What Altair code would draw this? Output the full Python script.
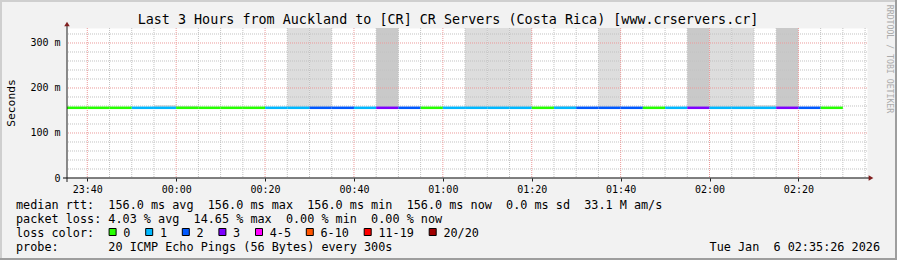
import altair as alt
import pandas as pd

# ---------------- data ----------------
TITLE = "Last 3 Hours from Auckland to [CR] CR Servers (Costa Rica) [www.crservers.cr]"

# 5-minute steps: start time of each step, loss (of 20 pings) and median rtt (ms)
seg_start = ["23:35", "23:40", "23:45", "23:50", "23:55", "00:00", "00:05", "00:10",
             "00:15", "00:20", "00:25", "00:30", "00:35", "00:40", "00:45", "00:50",
             "00:55", "01:00", "01:05", "01:10", "01:15", "01:20", "01:25", "01:30",
             "01:35", "01:40", "01:45", "01:50", "01:55", "02:00", "02:05", "02:10",
             "02:15", "02:20", "02:25"]
seg_loss = [0, 0, 0, 1, 1, 0, 0, 0, 0, 1, 1, 2, 2, 1, 3, 2, 0, 1, 1, 1, 1, 0, 1, 2,
            2, 2, 0, 1, 3, 1, 1, 1, 3, 2, 0]
seg_median = [156.0, 156.0, 156.0, 156.0, 156.0, 156.0, 156.0, 156.0, 156.0, 156.0,
              156.0, 156.0, 156.0, 156.0, 156.0, 156.0, 156.0, 156.0, 156.0, 156.0,
              156.0, 156.0, 156.0, 156.0, 156.0, 156.0, 156.0, 156.0, 156.0, 156.0,
              156.0, 156.0, 156.0, 156.0, 156.0]

# smoke (spread of pings) per step: top of the smoke in ms, and its shade
smoke_start = ["23:50", "23:55", "00:00", "00:25", "00:30", "00:45", "01:05", "01:10",
               "01:15", "01:25", "01:30", "01:35", "01:55", "02:00", "02:05", "02:10",
               "02:15"]
smoke_top = [157.5, 162.0, 160.0, 340.0, 340.0, 340.0, 340.0, 340.0, 340.0, 160.0,
             157.5, 340.0, 340.0, 340.0, 340.0, 162.0, 340.0]
smoke_shade = ["light", "light", "light", "light", "light", "dark", "light", "light",
               "light", "light", "light", "light", "dark", "light", "light", "light",
               "dark"]

loss_labels = ["0", "1", "2", "3", "4-5", "6-10", "11-19", "20/20"]
loss_colors = ["#26ff00", "#00b8ff", "#0059ff", "#7e00ff", "#ff00ff", "#ff5500",
               "#ff0000", "#a10000"]

y_ticks = [0, 100, 200, 300]
y_minor = [20, 40, 60, 80, 120, 140, 160, 180, 220, 240, 260, 280, 320]
x_major = ["23:40", "00:00", "00:20", "00:40", "01:00", "01:20", "01:40", "02:00", "02:20"]

legend_lines = [
    "median rtt:  156.0 ms avg  156.0 ms max  156.0 ms min  156.0 ms now  0.0 ms sd  33.1 M am/s",
    "packet loss: 4.03 % avg  14.65 % max  0.00 % min  0.00 % now",
    "loss color:",
    "probe:       20 ICMP Echo Pings (56 Bytes) every 300s",
]
date_text = "Tue Jan  6 02:35:26 2026"
y_title = "Seconds"
watermark = "RRDTOOL / TOBI OETIKER"

# ---------------- helpers ----------------
L, T = 67, 28          # plot origin in page pixels
W, H = 800, 150        # plot size
MONO = "DejaVu Sans Mono"


def ts(hhmm):
    day = "2026-01-05" if int(hhmm[:2]) >= 12 else "2026-01-06"
    return pd.Timestamp(f"{day}T{hhmm}:00")


def iso(t):
    return t.strftime("%Y-%m-%dT%H:%M:%S")


def dt(t):
    return alt.DateTime(year=t.year, month=t.month, date=t.day,
                        hours=t.hour, minutes=t.minute, seconds=t.second)


step = pd.Timedelta(minutes=5)
t0 = pd.Timestamp("2026-01-05T23:35:26")
t1 = pd.Timestamp("2026-01-06T02:35:26")

major_times = [ts(s) for s in x_major]
minor_times = []
t = ts("23:40")
while t <= t1:
    if t not in major_times:
        minor_times.append(t)
    t = t + step

xscale = alt.Scale(domain=[dt(t0), dt(t1)])
yscale = alt.Scale(domain=[0, 333.333], nice=False, zero=False)
cscale = alt.Scale(domain=loss_labels, range=loss_colors)

XAXIS = alt.Axis(values=[dt(v) for v in major_times], format="%H:%M",
                 labelFont=MONO, labelFontSize=10, labelColor="black",
                 tickSize=3, tickColor="#1f1f1f", labelPadding=3,
                 domain=False, grid=False, title=None)
YAXIS = alt.Axis(values=y_ticks, labelFont=MONO, labelFontSize=10,
                 labelColor="black", tickSize=0, labelPadding=7,
                 labelExpr="datum.value == 0 ? '0\u00a0\u00a0' : datum.value + ' m'",
                 domain=False, grid=False, title=None)


def X(field):
    return alt.X(field, scale=xscale, axis=XAXIS, title=None)


def Y(field):
    return alt.Y(field, scale=yscale, axis=YAXIS, title=None)


seg_df = pd.DataFrame({
    "start": [iso(ts(s)) for s in seg_start],
    "end": [iso(ts(s) + step) for s in seg_start],
    "loss": [loss_labels[v] for v in seg_loss],
    "rtt": seg_median,
})
smoke_df = pd.DataFrame({
    "start": [iso(ts(s)) for s in smoke_start],
    "end": [iso(ts(s) + step) for s in smoke_start],
    "lo": [seg_median[seg_start.index(s)] for s in smoke_start],
    "hi": smoke_top,
    "shade": smoke_shade,
})

layers = []

# smoke
for shade, col in [("light", "#dddddd"), ("dark", "#c9c9c9")]:
    layers.append(
        alt.Chart(smoke_df[smoke_df["shade"] == shade]).mark_rect(clip=True, color=col).encode(
            x=X("start:T"), x2="end:T", y=Y("lo:Q"), y2="hi:Q"))

# grids
gx_minor = pd.DataFrame({"t": [iso(v) for v in minor_times]})
gx_major = pd.DataFrame({"t": [iso(v) for v in major_times]})
gy_minor = pd.DataFrame({"v": y_minor})
gy_major = pd.DataFrame({"v": y_ticks[1:]})
minor_style = dict(color="#c2c2c2", strokeDash=[1, 1], strokeWidth=1)
major_style = dict(color="#ec9a9a", strokeDash=[1, 1], strokeWidth=1)
layers.append(alt.Chart(gx_minor).mark_rule(**minor_style).encode(x=X("t:T")))
layers.append(alt.Chart(gy_minor).mark_rule(**minor_style).encode(y=Y("v:Q")))
layers.append(alt.Chart(gx_major).mark_rule(**major_style).encode(x=X("t:T")))
layers.append(alt.Chart(gy_major).mark_rule(**major_style).encode(y=Y("v:Q")))

# median line coloured by loss
layers.append(
    alt.Chart(seg_df).mark_rule(strokeWidth=2.5, clip=True).encode(
        x=X("start:T"), x2="end:T", y=Y("rtt:Q"),
        color=alt.Color("loss:N", scale=cscale, legend=None),
    )
)

one = pd.DataFrame({"a": [0]})


def rule(x1, y1, x2, y2, color, width=1):
    return alt.Chart(one).mark_rule(color=color, strokeWidth=width).encode(
        x=alt.value(x1 - L), x2=alt.value(x2 - L),
        y=alt.value(y1 - T), y2=alt.value(y2 - T))


def text(s, x, y, size, align="left", baseline="alphabetic", angle=0, color="black"):
    s = s.replace(" ", "\u00a0")
    return alt.Chart(pd.DataFrame({"t": [s]})).mark_text(
        font=MONO, fontSize=size, align=align, baseline=baseline, angle=angle,
        color=color).encode(text="t:N", x=alt.value(x - L), y=alt.value(y - T))


# axis lines and arrows
layers.append(rule(63, 178, 869, 178, "#000000", 1))
layers.append(rule(67, 182, 67, 25, "#1f1f1f", 1))
layers.append(alt.Chart(one).mark_point(shape="triangle-right", filled=True, size=30,
                                        color="#801f1f", opacity=1).encode(
    x=alt.value(871 - L), y=alt.value(178 - T)))
layers.append(alt.Chart(one).mark_point(shape="triangle-up", filled=True, size=30,
                                        color="#801f1f", opacity=1).encode(
    x=alt.value(67 - L), y=alt.value(24 - T)))

# frame
layers.append(rule(0, 1, 897, 1, "#cfcfcf", 2))
layers.append(rule(1, 0, 1, 260, "#cfcfcf", 2))
layers.append(rule(0, 259, 897, 259, "#9e9e9e", 2))
layers.append(rule(896, 0, 896, 260, "#9e9e9e", 2))

# texts
layers.append(text(TITLE, 448, 23.5, 13.4, align="center"))
layers.append(text(y_title, 14.5, 103, 11.3, align="center", angle=270))
layers.append(text(watermark, 887, 59, 8.2, align="center", angle=90, color="#ababab"))
rows_y = [208.5, 222.5, 236.5, 250.5]
for line, yy in zip(legend_lines, rows_y):
    layers.append(text(line, 16, yy, 11.8))
layers.append(text(date_text, 880, rows_y[3], 11.8, align="right"))

# loss colour legend squares
CH = 7.1
sq = 109.0
for lab, col in zip(loss_labels, loss_colors):
    layers.append(alt.Chart(one).mark_point(shape="square", filled=True, size=49,
                                            fill=col, stroke="black", strokeWidth=1,
                                            opacity=1).encode(
        x=alt.value(sq + 3.6 - L), y=alt.value(232 - T)))
    layers.append(text(lab, sq + 14.3, rows_y[2], 11.8))
    sq = sq + 14.3 + len(lab) * CH + 15.2

chart = alt.layer(*layers).properties(
    width=W, height=H,
    padding={"left": L, "top": T, "right": 897 - L - W, "bottom": 260 - T - H},
    autosize=alt.AutoSizeParams(type="none"),
).configure(background="#f2f2f2").configure_view(fill="white", stroke="transparent")

chart.save("out.html", embed_options={"renderer": "svg", "actions": False})
